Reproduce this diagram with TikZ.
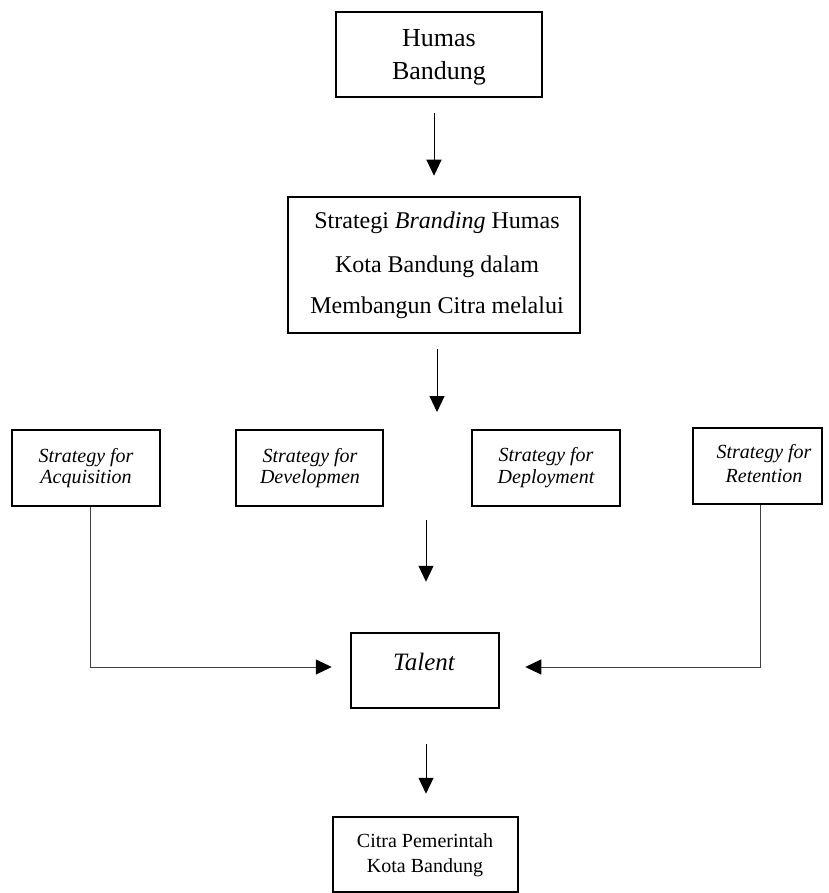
\documentclass[tikz,border=0pt]{standalone}
\usepackage{fontspec}
\setmainfont{Liberation Serif}
\usetikzlibrary{arrows.meta,calc}
\tikzset{
  box/.style={draw, line width=2.5pt, inner sep=0pt, fill=white},
  conn/.style={line width=1pt, -{Triangle[length=16pt,width=15pt]}},
  elbow/.style={line width=1pt, draw=black!75, -{Triangle[length=16pt,width=15pt,color=black]}},
  txt/.style={anchor=base, inner sep=0pt},
  big/.style={font=\fontsize{26}{30}\selectfont},
  mid/.style={font=\fontsize{24}{28}\selectfont},
  small/.style={font=\fontsize{20}{24}\selectfont},
  smallit/.style={font=\fontsize{20}{24}\selectfont\itshape},
  talit/.style={font=\fontsize{25}{29}\selectfont\itshape}
}
\begin{document}
\begin{tikzpicture}[x=1pt,y=-1pt]
\useasboundingbox (0,0) rectangle (828,893);
% boxes
\node[box, minimum width=206pt, minimum height=85pt] (hb) at (439,54.5) {};
\node[box, minimum width=292pt, minimum height=136pt] (sb) at (434,265) {};
\node[box, minimum width=148pt, minimum height=76pt] (acq) at (86,468) {};
\node[box, minimum width=147pt, minimum height=76pt] (dev) at (309.5,468) {};
\node[box, minimum width=148pt, minimum height=76pt] (dep) at (546,468) {};
\node[box, minimum width=129pt, minimum height=76pt] (ret) at (757.5,466) {};
\node[box, minimum width=148pt, minimum height=75pt] (tal) at (425,670.5) {};
\node[box, minimum width=185pt, minimum height=75pt] (cit) at (425.5,854.5) {};
% texts
\node[txt, big] (hb1) at (439,47) {Humas};
\node[txt, big] (hb2) at (439,80) {Bandung};
\node[txt, mid] (sb1) at (437,229) {Strategi \textit{Branding} Humas};
\node[txt, mid] (sb2) at (437,272) {Kota Bandung dalam};
\node[txt, mid] (sb3) at (437,313) {Membangun Citra melalui};
\node[txt, smallit] (acq1) at (86,462) {Strategy for};
\node[txt, smallit] (acq2) at (86,483) {Acquisition};
\node[txt, smallit] (dev1) at (310,462) {Strategy for};
\node[txt, smallit] (dev2) at (310,483) {Developmen};
\node[txt, smallit] (dep1) at (546,461) {Strategy for};
\node[txt, smallit] (dep2) at (546,483) {Deployment};
\node[txt, smallit] (ret1) at (764,458) {Strategy for};
\node[txt, smallit] (ret2) at (764,482) {Retention};
\node[txt, talit] (tal1) at (424,670) {Talent};
\node[txt, small] (cit1) at (425,847) {Citra Pemerintah};
\node[txt, small] (cit2) at (425,872) {Kota Bandung};
% free ends
\coordinate (m1) at (437,412);
\coordinate (m2) at (426,520);
% connectors
\draw[conn] ($(sb.north |- hb.south)+(0,15)$) -- ($(sb.north)+(0,-20)$);
\draw[conn] ($(m1 |- sb.south)+(0,15)$) -- (m1);
\draw[conn] (m2) -- ($(m2 |- tal.north)+(0,-50)$);
\draw[conn] ($(tal.south)+(1,35)$) -- ($(tal.south |- cit.north)+(1,-22)$);
\draw[elbow] ($(acq.south)+(4,0)$) |- ($(tal.west)+(-18,-3.5)$);
\draw[elbow] ($(ret.south)+(2.5,0)$) |- ($(tal.east)+(25,-3.5)$);
\end{tikzpicture}
\end{document}
